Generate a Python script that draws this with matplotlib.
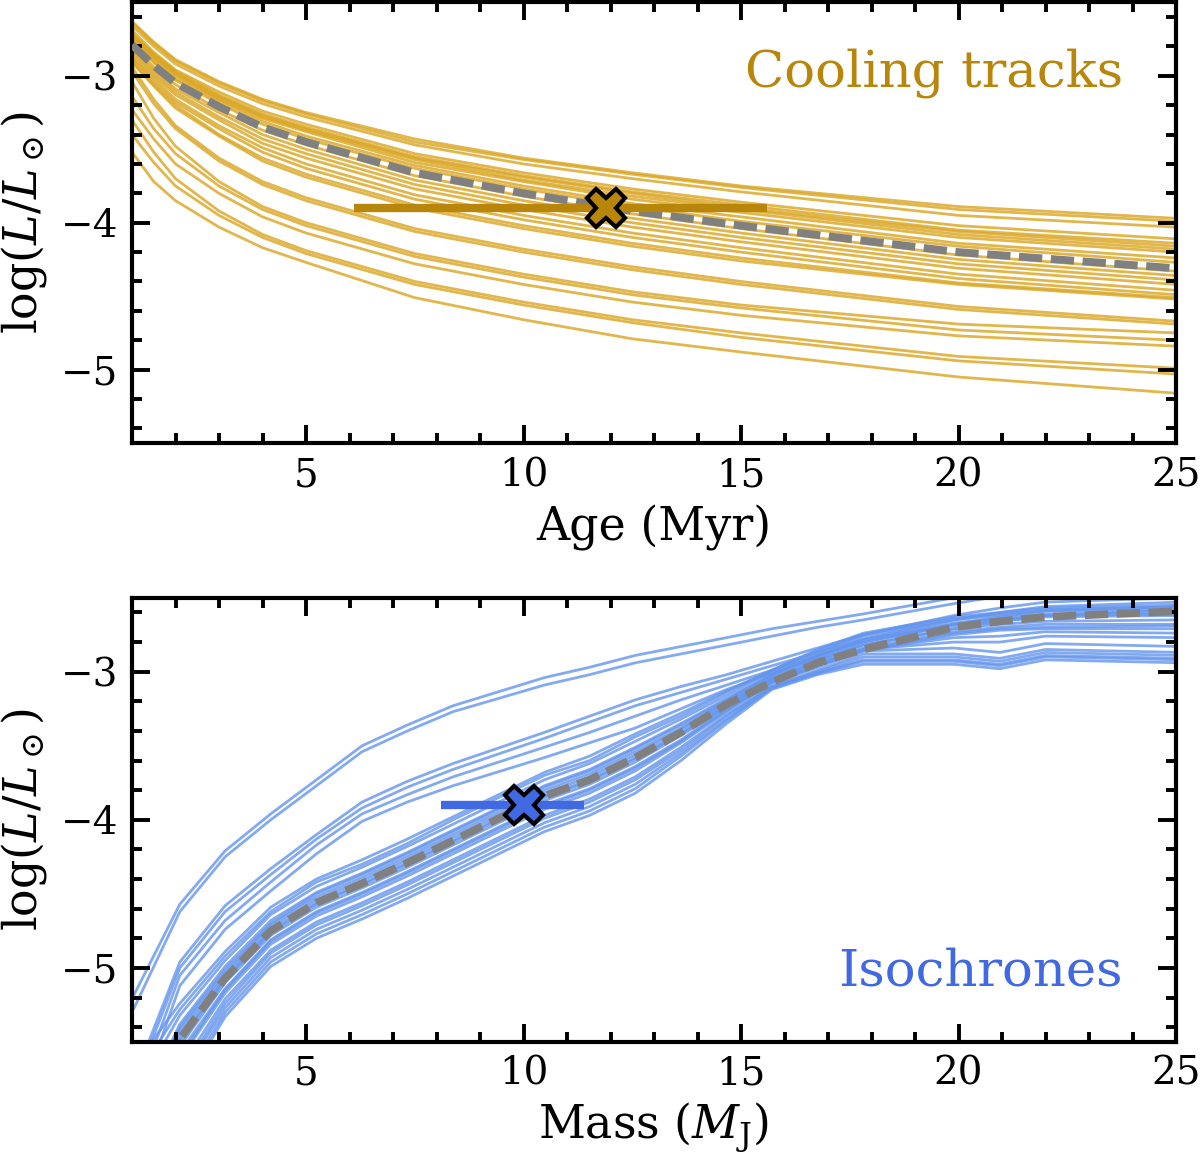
import matplotlib
matplotlib.use("Agg")
import matplotlib.pyplot as plt
from matplotlib.ticker import MultipleLocator

# ---------------- data: cooling tracks (top panel) ----------------
age_grid = [1, 1.5, 2, 3, 4, 5, 7.5, 10, 12.5, 15, 20, 25]

cooling_median = [-2.79, -2.93, -3.05, -3.21, -3.35, -3.45, -3.66, -3.80, -3.92, -4.02, -4.20, -4.31]

cooling_upper = [
    [-2.63, -2.77, -2.89, -3.04, -3.16, -3.25, -3.43, -3.56, -3.66, -3.75, -3.89, -3.97],
    [-2.64, -2.78, -2.90, -3.05, -3.17, -3.26, -3.45, -3.57, -3.67, -3.76, -3.91, -3.99],
    [-2.66, -2.80, -2.92, -3.07, -3.19, -3.28, -3.47, -3.60, -3.70, -3.79, -3.95, -4.03],
    [-2.69, -2.84, -2.96, -3.11, -3.24, -3.33, -3.53, -3.66, -3.77, -3.86, -4.02, -4.11],
    [-2.71, -2.85, -2.97, -3.13, -3.26, -3.35, -3.55, -3.68, -3.79, -3.88, -4.05, -4.14],
    [-2.72, -2.86, -2.98, -3.14, -3.27, -3.36, -3.56, -3.69, -3.80, -3.90, -4.06, -4.16],
    [-2.73, -2.87, -2.99, -3.15, -3.28, -3.37, -3.57, -3.71, -3.82, -3.91, -4.08, -4.18],
    [-2.74, -2.88, -3.00, -3.16, -3.29, -3.38, -3.59, -3.72, -3.84, -3.93, -4.10, -4.20],
    [-2.76, -2.90, -3.02, -3.17, -3.31, -3.41, -3.61, -3.75, -3.87, -3.96, -4.14, -4.24],
    [-2.77, -2.91, -3.03, -3.19, -3.33, -3.43, -3.63, -3.77, -3.89, -3.99, -4.16, -4.27],
]

cooling_band = [
    [-2.80, -2.94, -3.06, -3.23, -3.37, -3.47, -3.68, -3.82, -3.94, -4.04, -4.22, -4.33],
    [-2.82, -2.96, -3.09, -3.25, -3.40, -3.50, -3.71, -3.85, -3.97, -4.07, -4.25, -4.36],
    [-2.83, -2.98, -3.11, -3.28, -3.43, -3.53, -3.74, -3.88, -4.00, -4.10, -4.28, -4.39],
    [-2.85, -3.00, -3.13, -3.30, -3.46, -3.56, -3.77, -3.91, -4.03, -4.13, -4.31, -4.42],
    [-2.87, -3.02, -3.16, -3.34, -3.49, -3.60, -3.81, -3.95, -4.07, -4.17, -4.35, -4.46],
    [-2.88, -3.04, -3.18, -3.36, -3.52, -3.63, -3.84, -3.98, -4.10, -4.20, -4.38, -4.49],
    [-2.90, -3.06, -3.20, -3.40, -3.56, -3.67, -3.88, -4.02, -4.14, -4.24, -4.41, -4.51],
    [-2.91, -3.07, -3.22, -3.41, -3.58, -3.69, -3.90, -4.04, -4.16, -4.26, -4.42, -4.52],
]

cooling_lower = [
    [-2.94, -3.16, -3.34, -3.56, -3.72, -3.83, -4.04, -4.18, -4.30, -4.40, -4.57, -4.67],
    [-2.97, -3.19, -3.36, -3.58, -3.74, -3.85, -4.06, -4.20, -4.32, -4.42, -4.59, -4.69],
    [-3.04, -3.29, -3.48, -3.72, -3.89, -4.00, -4.21, -4.35, -4.47, -4.56, -4.69, -4.75],
    [-3.14, -3.36, -3.53, -3.75, -3.91, -4.02, -4.23, -4.37, -4.49, -4.58, -4.73, -4.80],
    [-3.23, -3.43, -3.60, -3.80, -3.96, -4.07, -4.28, -4.42, -4.54, -4.63, -4.77, -4.84],
    [-3.30, -3.52, -3.70, -3.92, -4.08, -4.19, -4.40, -4.54, -4.66, -4.75, -4.91, -4.99],
    [-3.40, -3.59, -3.75, -3.95, -4.10, -4.21, -4.42, -4.56, -4.68, -4.78, -4.94, -5.03],
    [-3.52, -3.72, -3.85, -4.03, -4.17, -4.27, -4.51, -4.66, -4.79, -4.88, -5.05, -5.16],
]

age_best = 11.9
age_err_low = 5.8
age_err_high = 3.7
logl_best = -3.9

# ---------------- data: isochrones (bottom panel) ----------------
mass_grid = [1.05, 2.10, 3.14, 4.19, 5.24, 6.29, 7.33, 8.38, 10.48, 11.52,
             12.57, 13.62, 14.67, 15.71, 16.76, 17.81, 19.90, 20.95, 22.00, 25.14]

iso_median = [-6.30, -5.48, -5.07, -4.75, -4.56, -4.43, -4.29, -4.14, -3.84, -3.73,
              -3.58, -3.41, -3.22, -3.07, -2.94, -2.85, -2.70, -2.66, -2.63, -2.59]

iso_young = [
    [-5.18, -4.57, -4.21, -3.96, -3.73, -3.50, -3.36, -3.23, -3.04, -2.97,
     -2.89, -2.83, -2.77, -2.71, -2.66, -2.61, -2.50, -2.45, -2.40, -2.28],
    [-5.27, -4.62, -4.25, -4.00, -3.77, -3.54, -3.40, -3.27, -3.09, -3.02,
     -2.94, -2.88, -2.82, -2.76, -2.70, -2.65, -2.54, -2.49, -2.45, -2.33],
]

iso_mid = [
    [-5.75, -4.96, -4.58, -4.33, -4.10, -3.88, -3.74, -3.62, -3.41, -3.30,
     -3.19, -3.10, -3.02, -2.93, -2.84, -2.75, -2.62, -2.57, -2.53, -2.50],
    [-5.80, -5.00, -4.62, -4.37, -4.13, -3.92, -3.78, -3.66, -3.45, -3.34,
     -3.23, -3.14, -3.05, -2.96, -2.87, -2.78, -2.65, -2.60, -2.56, -2.53],
    [-5.90, -5.05, -4.68, -4.42, -4.17, -3.96, -3.83, -3.71, -3.51, -3.41,
     -3.30, -3.19, -3.09, -2.99, -2.89, -2.80, -2.68, -2.63, -2.59, -2.56],
    [-6.00, -5.12, -4.74, -4.48, -4.23, -4.01, -3.88, -3.77, -3.58, -3.48,
     -3.38, -3.25, -3.12, -3.01, -2.91, -2.82, -2.71, -2.66, -2.62, -2.58],
]

iso_band_upper = [
    [-5.66, -5.24, -4.89, -4.59, -4.40, -4.27, -4.13, -3.98, -3.68, -3.57,
     -3.42, -3.28, -3.13, -2.99, -2.85, -2.74, -2.63, -2.60, -2.57, -2.55],
    [-5.76, -5.28, -4.92, -4.62, -4.42, -4.30, -4.16, -4.00, -3.70, -3.60,
     -3.44, -3.30, -3.14, -2.99, -2.86, -2.75, -2.64, -2.61, -2.58, -2.56],
    [-5.86, -5.32, -4.95, -4.64, -4.45, -4.32, -4.18, -4.03, -3.73, -3.62,
     -3.47, -3.32, -3.16, -3.00, -2.87, -2.76, -2.65, -2.62, -2.59, -2.58],
    [-6.02, -5.38, -4.99, -4.68, -4.49, -4.36, -4.22, -4.07, -3.77, -3.66,
     -3.51, -3.35, -3.18, -3.02, -2.89, -2.78, -2.67, -2.64, -2.61, -2.60],
    [-6.08, -5.40, -5.01, -4.70, -4.50, -4.37, -4.23, -4.08, -3.78, -3.67,
     -3.52, -3.36, -3.19, -3.02, -2.89, -2.79, -2.68, -2.65, -2.62, -2.61],
    [-6.14, -5.42, -5.03, -4.71, -4.52, -4.39, -4.25, -4.10, -3.80, -3.69,
     -3.54, -3.38, -3.20, -3.03, -2.90, -2.80, -2.69, -2.66, -2.63, -2.62],
    [-6.22, -5.45, -5.05, -4.73, -4.54, -4.41, -4.27, -4.12, -3.82, -3.71,
     -3.56, -3.39, -3.21, -3.04, -2.92, -2.82, -2.71, -2.68, -2.66, -2.65],
    [-6.30, -5.48, -5.07, -4.75, -4.56, -4.43, -4.29, -4.14, -3.84, -3.73,
     -3.58, -3.41, -3.22, -3.05, -2.93, -2.84, -2.73, -2.70, -2.68, -2.68],
    [-6.36, -5.50, -5.08, -4.76, -4.57, -4.44, -4.30, -4.15, -3.85, -3.74,
     -3.59, -3.42, -3.23, -3.05, -2.94, -2.85, -2.74, -2.71, -2.70, -2.69],
]

iso_band_lower = [
    [-6.42, -5.53, -5.10, -4.78, -4.59, -4.46, -4.32, -4.17, -3.87, -3.76,
     -3.61, -3.43, -3.24, -3.06, -2.95, -2.86, -2.75, -2.72, -2.71, -2.71],
    [-6.54, -5.57, -5.14, -4.81, -4.62, -4.49, -4.35, -4.20, -3.90, -3.79,
     -3.64, -3.46, -3.25, -3.07, -2.96, -2.85, -2.80, -2.80, -2.76, -2.77],
    [-6.60, -5.60, -5.15, -4.82, -4.63, -4.50, -4.36, -4.21, -3.91, -3.80,
     -3.65, -3.47, -3.26, -3.07, -2.96, -2.85, -2.77, -2.76, -2.73, -2.74],
    [-6.66, -5.62, -5.17, -4.84, -4.65, -4.52, -4.38, -4.23, -3.93, -3.82,
     -3.67, -3.48, -3.27, -3.08, -2.97, -2.86, -2.84, -2.87, -2.81, -2.83],
    [-6.82, -5.68, -5.21, -4.88, -4.69, -4.56, -4.42, -4.27, -3.97, -3.86,
     -3.71, -3.51, -3.29, -3.10, -2.99, -2.88, -2.88, -2.91, -2.85, -2.87],
    [-6.92, -5.72, -5.24, -4.90, -4.71, -4.58, -4.44, -4.29, -3.99, -3.88,
     -3.73, -3.53, -3.30, -3.10, -3.00, -2.90, -2.90, -2.93, -2.87, -2.89],
    [-7.02, -5.75, -5.27, -4.93, -4.74, -4.61, -4.47, -4.32, -4.02, -3.91,
     -3.76, -3.55, -3.32, -3.11, -3.01, -2.92, -2.92, -2.95, -2.89, -2.91],
    [-7.14, -5.80, -5.30, -4.96, -4.77, -4.64, -4.50, -4.35, -4.05, -3.94,
     -3.79, -3.57, -3.33, -3.11, -3.01, -2.93, -2.93, -2.96, -2.90, -2.92],
    [-7.26, -5.84, -5.33, -4.99, -4.80, -4.67, -4.53, -4.38, -4.08, -3.97,
     -3.82, -3.60, -3.35, -3.12, -3.02, -2.95, -2.95, -2.98, -2.92, -2.94],
]

mass_best = 10.0
mass_err_low = 1.9
mass_err_high = 1.4

# ---------------- style ----------------
plt.rcParams.update({
    "font.family": "serif",
    "font.serif": ["DejaVu Serif"],
    "mathtext.fontset": "dejavuserif",
    "font.size": 14,
})

fig = plt.figure(figsize=(6, 5.77), dpi=200)
ax1 = fig.add_axes([0.110, 0.616, 0.870, 0.382])
ax2 = fig.add_axes([0.110, 0.0971, 0.870, 0.385])


def style(ax):
    ax.set_xlim(1, 25)
    ax.set_ylim(-5.5, -2.5)
    ax.set_xticks([5, 10, 15, 20, 25])
    ax.set_yticks([-5, -4, -3])
    ax.xaxis.set_minor_locator(MultipleLocator(1))
    ax.yaxis.set_minor_locator(MultipleLocator(0.2))
    ax.tick_params(which="both", direction="in", top=True, right=True,
                   width=1.4, labelsize=14, pad=5)
    ax.tick_params(which="major", length=6.5)
    ax.tick_params(which="minor", length=3.6)
    for s in ax.spines.values():
        s.set_linewidth(1.5)
    ax.set_ylabel(r"$\log(L/L_\odot)$", fontsize=16.5)


style(ax1)
style(ax2)

LW = 1.0
ALPHA = 0.8
DASH_LW = 2.8
DASHES = (3.0, 1.1)

track_col = "goldenrod"
for grp in (cooling_upper, cooling_band, cooling_lower):
    for tr in grp:
        ax1.plot(age_grid, tr, color=track_col, lw=LW, alpha=ALPHA, zorder=1)
ax1.plot(age_grid, cooling_median, color="gray", lw=DASH_LW, dashes=DASHES, zorder=3)
ax1.errorbar(age_best, logl_best, xerr=[[age_err_low], [age_err_high]], fmt="X",
             color="darkgoldenrod", ms=14, mec="black", mew=1.5, elinewidth=3,
             capsize=0, zorder=4)
ax1.set_xlabel("Age (Myr)", fontsize=16.5)
ax1.text(0.949, 0.808, "Cooling tracks", transform=ax1.transAxes, ha="right",
         va="baseline", fontsize=18.5, color="darkgoldenrod")

iso_col = "cornflowerblue"
for grp in (iso_young, iso_mid, iso_band_upper, iso_band_lower):
    for tr in grp:
        ax2.plot(mass_grid, tr, color=iso_col, lw=LW, alpha=ALPHA, zorder=1)
ax2.plot(mass_grid, iso_median, color="gray", lw=DASH_LW, dashes=DASHES, zorder=3)
ax2.errorbar(mass_best, logl_best, xerr=[[mass_err_low], [mass_err_high]], fmt="X",
             color="royalblue", ms=14, mec="black", mew=1.5, elinewidth=3,
             capsize=0, zorder=4)
ax2.set_xlabel(r"Mass ($M_\mathrm{J}$)", fontsize=16.5, labelpad=3)
ax2.text(0.949, 0.126, "Isochrones", transform=ax2.transAxes, ha="right",
         va="baseline", fontsize=18.5, color="royalblue")

fig.savefig("out.png", dpi=200)
